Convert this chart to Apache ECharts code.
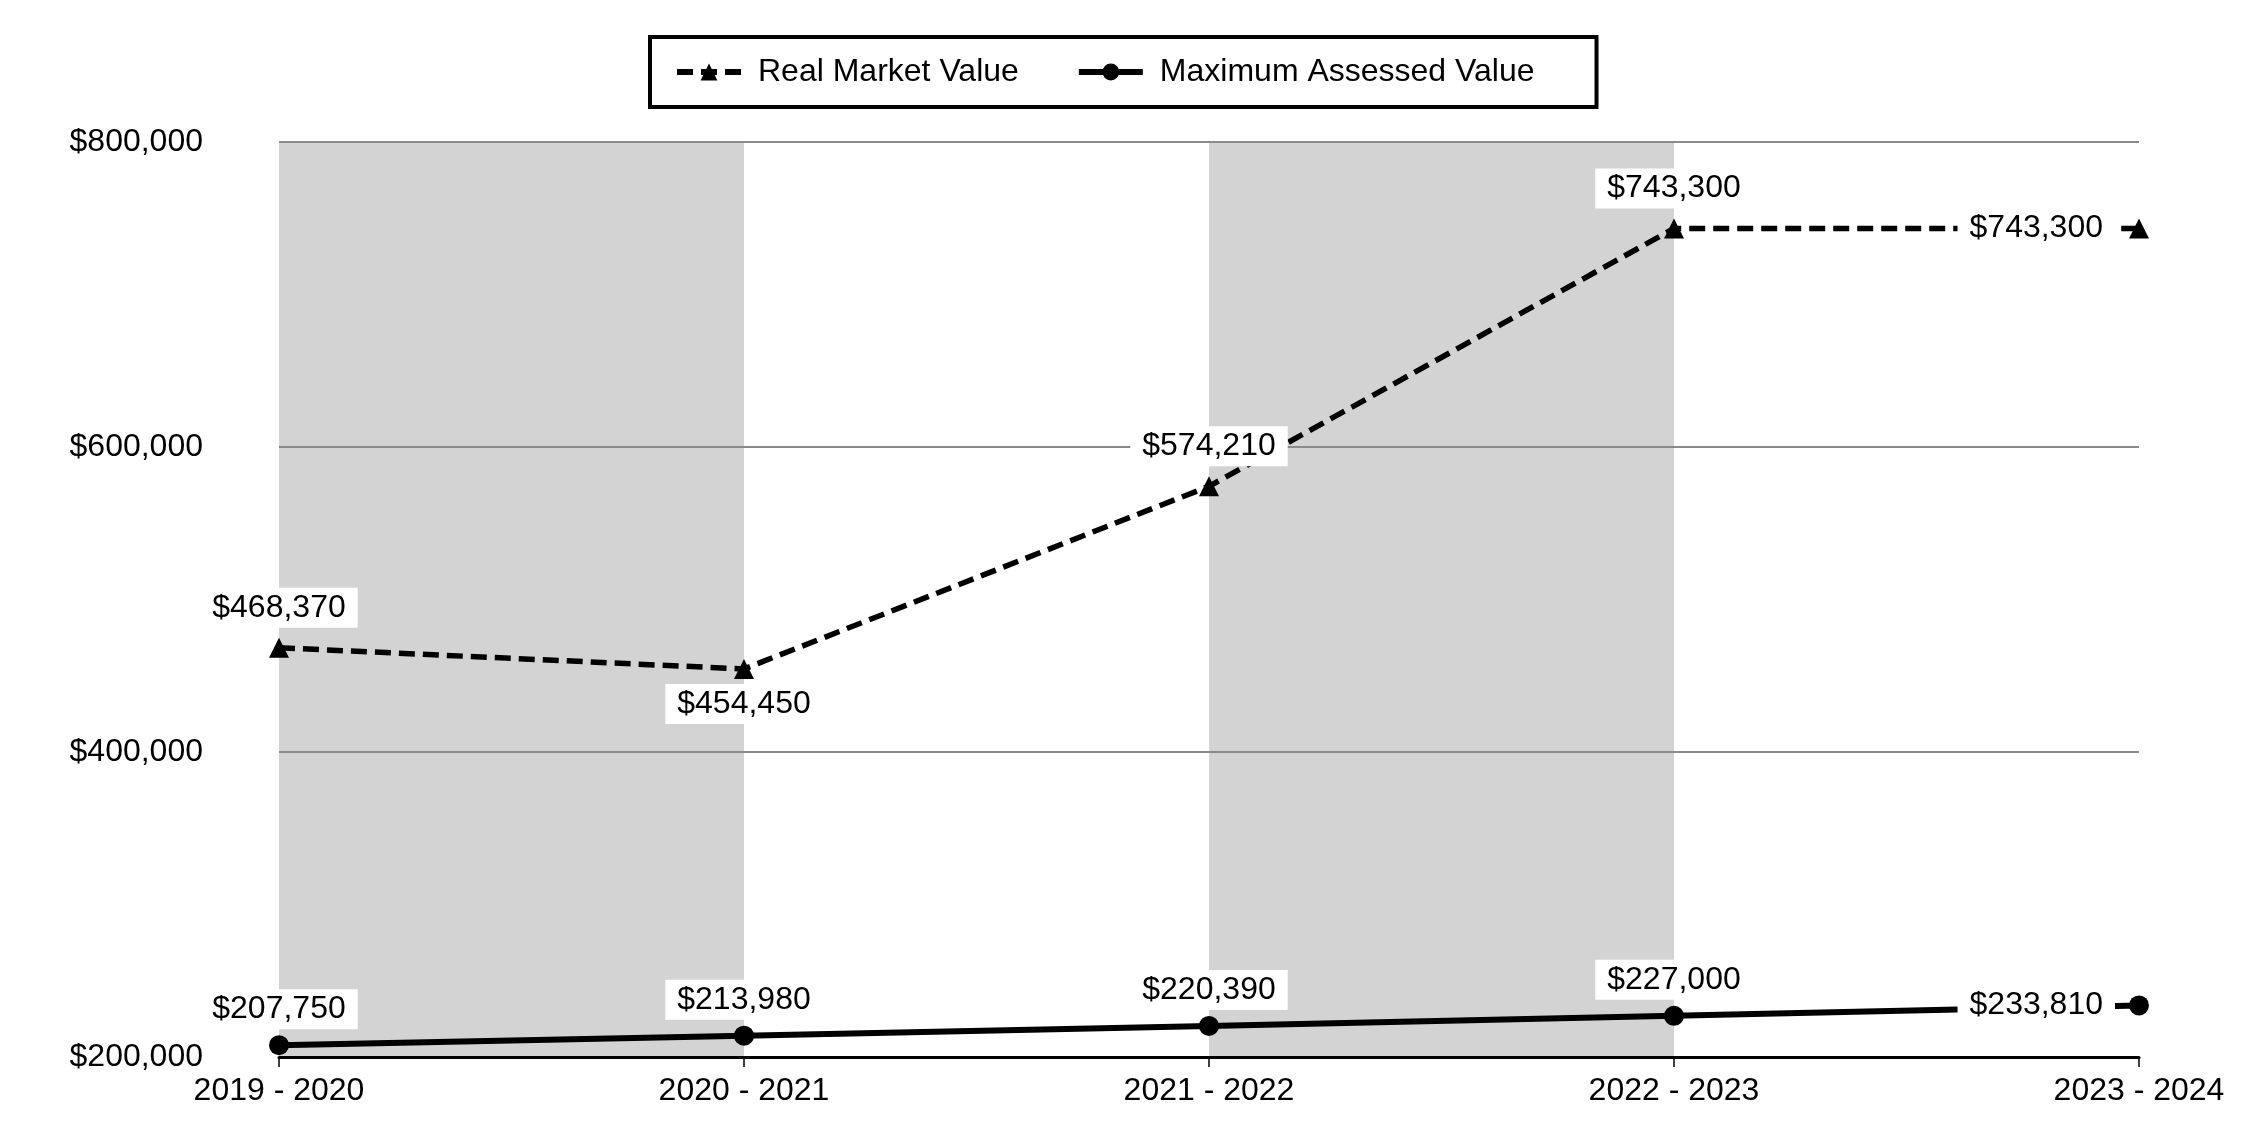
<!DOCTYPE html>
<html><head><meta charset="utf-8">
<script src="https://cdn.jsdelivr.net/npm/echarts@6/dist/echarts.min.js"></script>
<style>html,body{margin:0;padding:0;background:#fff}#c{width:2250px;height:1140px}</style>
</head><body><div id="c"></div>
<script>
const categories = ['2019 - 2020', '2020 - 2021', '2021 - 2022', '2022 - 2023', '2023 - 2024'];
const realMarketValue = [468370, 454450, 574210, 743300, 743300];
const maxAssessedValue = [207750, 213980, 220390, 227000, 233810];
const rmvLabelPos = ['top', 'bottom', 'top', 'top', 'left'];
const mavLabelPos = ['top', 'top', 'top', 'top', 'left'];
const yMin = 200000, yMax = 800000, yStep = 200000;

const FONT = '"Liberation Sans", Arial, sans-serif';
const fmt = v => '$' + Math.round(v).toLocaleString('en-US');

function labelFor(pos, topDist) {
  return {
    show: true, position: pos,
    distance: pos === 'left' ? 14 : (pos === 'bottom' ? 5 : topDist),
    formatter: p => fmt(p.value),
    color: '#000', fontSize: 32, fontFamily: FONT,
    backgroundColor: '#fff', padding: [4, 12, 4, 12]
  };
}

const chart = echarts.init(document.getElementById('c'));
chart.setOption({
  animation: false,
  backgroundColor: '#fff',
  grid: { left: 279, right: 111, top: 142, bottom: 83, containLabel: false },
  legend: {
    left: 650, top: 37,
    padding: [17, 62, 17, 24],
    itemGap: 57, itemWidth: 64, itemHeight: 21,
    borderColor: '#000', borderWidth: 4,
    lineStyle: { width: 6 },
    textStyle: { fontSize: 32, fontFamily: FONT, color: '#000', lineHeight: 36, padding: [0, 0, 0, 12] },
    data: ['Real Market Value', 'Maximum Assessed Value']
  },
  xAxis: {
    type: 'category', data: categories, boundaryGap: false, z: 0,
    axisLine: { lineStyle: { color: '#000', width: 3 } },
    axisTick: { show: true, length: 10, lineStyle: { color: '#000', width: 1.5 } },
    axisLabel: { fontSize: 32, fontFamily: FONT, color: '#000', margin: 18 },
    splitLine: { show: false },
    splitArea: { show: true, areaStyle: { color: ['#d3d3d3', 'rgba(255,255,255,0)'] } }
  },
  yAxis: {
    type: 'value', min: yMin, max: yMax, interval: yStep, z: 1,
    axisLine: { show: false }, axisTick: { show: false },
    axisLabel: { fontSize: 32, fontFamily: FONT, color: '#000', margin: 76, formatter: fmt },
    splitLine: { showMinLine: false, lineStyle: { color: '#8a8a8a', width: 2 } }
  },
  series: [
    {
      name: 'Real Market Value', type: 'line',
      data: realMarketValue.map((v, i) => ({ value: v, label: labelFor(rmvLabelPos[i], 10) })),
      symbol: 'triangle', symbolSize: 20,
      itemStyle: { color: '#000' },
      lineStyle: { color: '#000', width: 5.5, type: [16, 8] },
      z: 3
    },
    {
      name: 'Maximum Assessed Value', type: 'line',
      data: maxAssessedValue.map((v, i) => ({ value: v, label: labelFor(mavLabelPos[i], 6) })),
      symbol: 'circle', symbolSize: 20,
      itemStyle: { color: '#000' },
      lineStyle: { color: '#000', width: 6 },
      z: 3
    }
  ]
});
</script></body></html>
